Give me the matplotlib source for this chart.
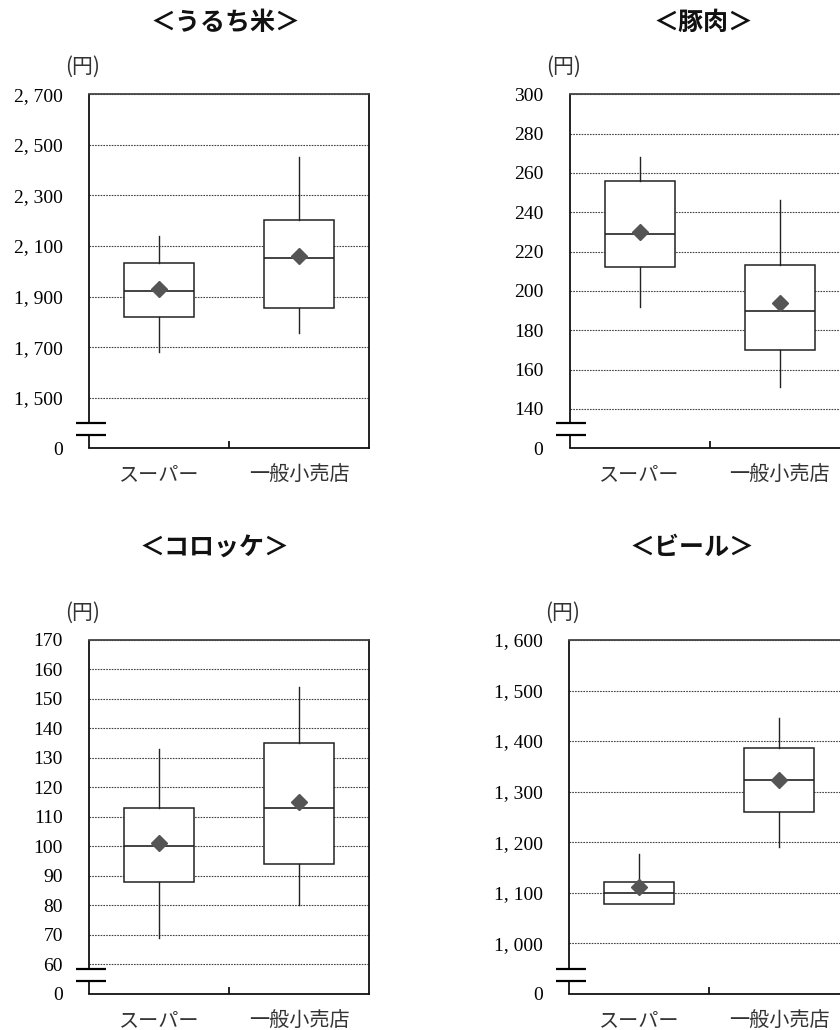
import numpy as np
import matplotlib
matplotlib.use("Agg")
import matplotlib.pyplot as plt

plt.rcParams['font.family'] = ['Noto Sans CJK JP', 'DejaVu Sans']

# ---- data ----
categories = ["スーパー", "一般小売店"]

titles = ["＜うるち米＞", "＜豚肉＞", "＜コロッケ＞", "＜ビール＞"]

# whisker low, q1, median, q3, whisker high, mean  (per category)
rice_low = [1680, 1756]
rice_q1 = [1818, 1853]
rice_med = [1924, 2053]
rice_q3 = [2032, 2202]
rice_high = [2140, 2451]
rice_mean = [1930, 2061]

pork_low = [192, 151]
pork_q1 = [212, 170]
pork_med = [229, 190]
pork_q3 = [256, 213]
pork_high = [268, 246]
pork_mean = [230, 194]

croq_low = [69, 80]
croq_q1 = [88, 94]
croq_med = [100, 113]
croq_q3 = [113, 135]
croq_high = [133, 154]
croq_mean = [101, 115]

beer_low = [1077, 1190]
beer_q1 = [1077, 1260]
beer_med = [1100, 1322]
beer_q3 = [1121, 1386]
beer_high = [1177, 1445]
beer_mean = [1112, 1323]

# y-axis ticks: first entry is the broken "0"
rice_ticks = [1300, 1500, 1700, 1900, 2100, 2300, 2500, 2700]
pork_ticks = [120, 140, 160, 180, 200, 220, 240, 260, 280, 300]
croq_ticks = [50, 60, 70, 80, 90, 100, 110, 120, 130, 140, 150, 160, 170]
beer_ticks = [900, 1000, 1100, 1200, 1300, 1400, 1500, 1600]

series = [
    (rice_low, rice_q1, rice_med, rice_q3, rice_high, rice_mean, rice_ticks),
    (pork_low, pork_q1, pork_med, pork_q3, pork_high, pork_mean, pork_ticks),
    (croq_low, croq_q1, croq_med, croq_q3, croq_high, croq_mean, croq_ticks),
    (beer_low, beer_q1, beer_med, beer_q3, beer_high, beer_mean, beer_ticks),
]

W, H = 840, 1030
fig = plt.figure(figsize=(W / 100, H / 100), dpi=100)

# axes boxes in pixels: left, top, width, height
boxes_px = [(89.3, 94.3, 280, 354), (569.7, 94.3, 280, 354),
            (89.3, 640, 280, 353.7), (569.3, 640, 280, 353.7)]
title_px = [(225, 23), (703, 23), (214, 548), (692, 548)]

line_c = "#222222"
num_font = "Liberation Serif"

for (lo, q1, med, q3, hi, mean, ticks), (l, t, w, h), tpos, title in zip(series, boxes_px, title_px, titles):
    ax = fig.add_axes([l / W, 1 - (t + h) / H, w / W, h / H])

    stats = []
    for i in range(len(categories)):
        stats.append(dict(whislo=lo[i], q1=q1[i], med=med[i], q3=q3[i],
                          whishi=hi[i], mean=mean[i], label=categories[i]))
    ax.bxp(stats, positions=[0.5, 1.5], widths=0.5, showmeans=True,
           showcaps=False, showfliers=False, patch_artist=True,
           boxprops=dict(facecolor="white", edgecolor=line_c, linewidth=1.1),
           whiskerprops=dict(color=line_c, linewidth=1.0),
           medianprops=dict(color=line_c, linewidth=1.2),
           meanprops=dict(marker="D", markerfacecolor="#555555",
                          markeredgecolor="#555555", markersize=8))

    ax.set_xlim(0, 2)
    ax.set_ylim(ticks[0], ticks[-1])
    labels = ["0"] + ["{:,}".format(v).replace(",", ", ") for v in ticks[1:]]
    ax.set_yticks(ticks, labels, fontfamily=num_font, fontsize=14)
    ax.tick_params(axis="y", length=0, pad=19)
    ax.set_xticks([0.5, 1.5], categories, fontsize=14.5)
    ax.set_xticks([1.0], minor=True)
    ax.tick_params(axis="x", which="major", length=0, pad=11.5, colors="#333333")
    ax.tick_params(axis="x", which="minor", direction="in", length=5, width=1.2)

    ax.yaxis.grid(True, linestyle=(0, (1.5, 1.0)), color="#444444", linewidth=0.8)
    ax.set_axisbelow(True)

    for s in ["top", "right", "bottom"]:
        ax.spines[s].set_linewidth(1.3)
        ax.spines[s].set_color("#111111")
    ax.spines["top"].set_color("#444444")
    ax.spines["left"].set_visible(False)

    # left spine with a break, plus the two break marks
    ax.plot([0, 0], [0, 0.037], transform=ax.transAxes, color="#111111",
            lw=1.3, clip_on=False, solid_capstyle="butt")
    ax.plot([0, 0], [0.071, 1], transform=ax.transAxes, color="#111111",
            lw=1.3, clip_on=False, solid_capstyle="butt")
    for yb in [0.037, 0.071]:
        ax.plot([-0.0476, 0.0586], [yb, yb], transform=ax.transAxes,
                color="black", lw=1.6, clip_on=False, solid_capstyle="butt")

    ax.annotate("(円)", xy=(0, 1), xycoords="axes fraction", xytext=(-4.5, 19.5),
                textcoords="offset points", ha="center", va="center",
                fontsize=15, color="#333333")

    fig.text(tpos[0] / W, 1 - tpos[1] / H, title, ha="center", va="center",
             fontsize=18, fontweight="bold", color="#111111")

fig.savefig("out.png", dpi=100)
